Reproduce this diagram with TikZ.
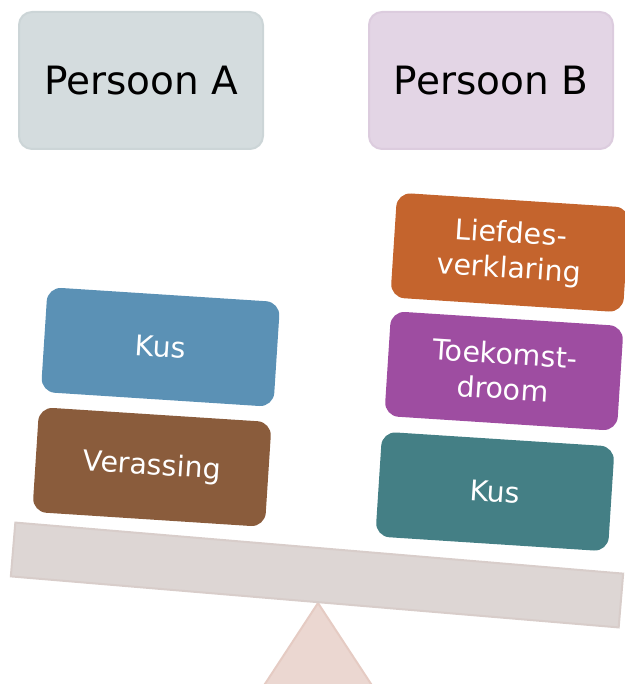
\documentclass[tikz,border=0pt]{standalone}
\usepackage{fontspec}
\setmainfont{DejaVu Sans}
\usetikzlibrary{positioning}

\definecolor{grijsA}{HTML}{D4DCDE}
\definecolor{grijsArand}{HTML}{CCD5D7}
\definecolor{lilaB}{HTML}{E3D5E5}
\definecolor{lilaBrand}{HTML}{DCCCDE}
\definecolor{kusblauw}{HTML}{5B91B5}
\definecolor{bruin}{HTML}{8A5C3C}
\definecolor{oranje}{HTML}{C4642D}
\definecolor{paars}{HTML}{9E4DA1}
\definecolor{petrol}{HTML}{447F85}
\definecolor{balk}{HTML}{DDD6D4}
\definecolor{balkrand}{HTML}{D8CDCA}
\definecolor{steun}{HTML}{EBD7D1}
\definecolor{steunrand}{HTML}{E5CBC3}

\tikzset{
  persoon/.style={rounded corners=13pt, line width=2pt, minimum width=244pt,
    minimum height=137pt, font=\fontsize{39}{47}\selectfont},
  blok/.style={rounded corners=14pt, fill=#1, text=white, minimum width=233pt,
    minimum height=105pt, rotate=-3.7, align=center,
    font=\fontsize{28.5}{35}\selectfont}
}

\begin{document}
\begin{tikzpicture}[x=1pt, y=-1pt]
  \useasboundingbox (0,0) rectangle (624,684);

  % de twee personen
  \node [persoon, fill=grijsA, draw=grijsArand] (pa) at (141,80.5) {Persoon A};
  \node [persoon, fill=lilaB, draw=lilaBrand, right=104pt of pa] (pb) {Persoon B};

  % wip: steunpunt en balk
  \draw [line width=2pt, fill=steun, draw=steunrand]
    (318,603) -- (261,690) -- (375,690) -- cycle;
  \node [fill=balk, draw=balkrand, line width=2pt, minimum width=610pt,
    minimum height=54pt, rotate=-4.8] (balk) at (317,575) {};

  \foreach \x/\y/\kleur/\tekst/\naam in {
      160.5/347/kusblauw/{Kus}/kusA,
      152/467/bruin/{Verassing}/verassing,
      510/252.5/oranje/{Liefdes-\\verklaring}/liefde,
      504/371/paars/{Toekomst-\\droom}/toekomst,
      495/491.5/petrol/{Kus}/kusB} {
    \node [blok=\kleur] (\naam) at (\x,\y) {\tekst};
  }
\end{tikzpicture}
\end{document}
